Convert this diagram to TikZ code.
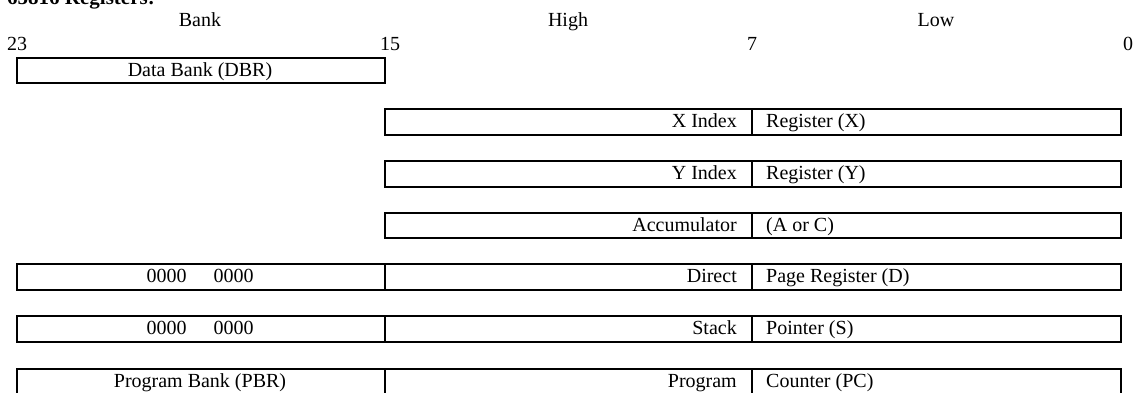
\documentclass[tikz,border=0pt]{standalone}
\usepackage{fontspec}
\setmainfont{Liberation Serif}
\begin{document}
\begin{tikzpicture}[x=1pt,y=-1pt,
  cell/.style={draw=black, line width=2pt, rectangle, inner sep=0pt, anchor=north west, minimum height=25.5pt},
  lbl/.style={inner sep=0pt, anchor=base, font=\fontsize{20}{24}\selectfont},
  rtxt/.style={inner sep=0pt, anchor=base east, font=\fontsize{20}{24}\selectfont},
  ltxt/.style={inner sep=0pt, anchor=base west, font=\fontsize{20}{24}\selectfont}]
\useasboundingbox (0,0) rectangle (1136,392);
% title (cut off at top, as in the reference)
\node[ltxt, font=\fontsize{21}{24}\selectfont\bfseries] (title) at (7,4.5) {65816 Registers:};
% headers
\node[lbl] (hbank) at (200,26) {Bank};
\node[lbl] (hhigh) at (568,26) {High};
\node[lbl] (hlow) at (936,26) {Low};
\node[ltxt] (b23) at (7,50.5) {23};
\node[ltxt] (b15) at (380,50.5) {15};
\node[ltxt] (b7) at (747,50.5) {7};
\node[ltxt] (b0) at (1123,50.5) {0};
% Data bank
\node[cell, minimum width=368pt] (dbr) at (16,56.5) {};
\node[lbl] (dbrt) at (200,76) {Data Bank (DBR)};
% X
\node[cell, minimum width=367pt] (xh) at (384,108) {};
\node[cell, minimum width=369pt] (xl) at (751,108) {};
\node[rtxt] (xht) at (737,127.5) {X Index};
\node[ltxt] (xlt) at (766,127.5) {Register (X)};
% Y
\node[cell, minimum width=367pt] (yh) at (384,160) {};
\node[cell, minimum width=369pt] (yl) at (751,160) {};
\node[rtxt] (yht) at (737,179.5) {Y Index};
\node[ltxt] (ylt) at (766,179.5) {Register (Y)};
% A
\node[cell, minimum width=367pt] (ah) at (384,211.5) {};
\node[cell, minimum width=369pt] (al) at (751,211.5) {};
\node[rtxt] (aht) at (737,231) {Accumulator};
\node[ltxt] (alt) at (766,231) {(A or C)};
% D
\node[cell, minimum width=368pt] (db) at (16,263) {};
\node[cell, minimum width=367pt] (dh) at (384,263) {};
\node[cell, minimum width=369pt] (dl) at (751,263) {};
\node[lbl] (dbt) at (200,282.5) {0000\hspace{27pt}0000};
\node[rtxt] (dht) at (737,282.5) {Direct};
\node[ltxt] (dlt) at (766,282.5) {Page Register (D)};
% S
\node[cell, minimum width=368pt] (sb) at (16,315) {};
\node[cell, minimum width=367pt] (sh) at (384,315) {};
\node[cell, minimum width=369pt] (sl) at (751,315) {};
\node[lbl] (sbt) at (200,334.5) {0000\hspace{27pt}0000};
\node[rtxt] (sht) at (737,334.5) {Stack};
\node[ltxt] (slt) at (766,334.5) {Pointer (S)};
% PC (bottom edge falls just outside the picture, as in the reference)
\node[cell, minimum width=368pt] (pb) at (16,367.5) {};
\node[cell, minimum width=367pt] (ph) at (384,367.5) {};
\node[cell, minimum width=369pt] (pl) at (751,367.5) {};
\node[lbl] (pbt) at (200,387) {Program Bank (PBR)};
\node[rtxt] (pht) at (737,387) {Program};
\node[ltxt] (plt) at (766,387) {Counter (PC)};
\end{tikzpicture}
\end{document}
